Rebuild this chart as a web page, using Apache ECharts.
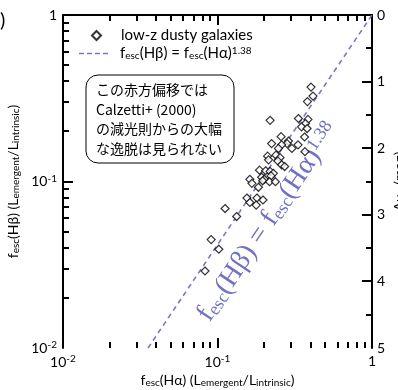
<!DOCTYPE html>
<html><head><meta charset="utf-8">
<script src="https://cdn.jsdelivr.net/npm/echarts@6/dist/echarts.min.js"></script>
<style>html,body{margin:0;padding:0;background:#fff}#c{width:398px;height:390px}</style>
</head><body><div id="c"></div>
<script>
// ---- data ----
const fescHa = [0.403,0.415,0.382,0.219,0.334,0.385,0.371,0.350,0.380,0.258,0.366,0.224,0.288,0.282,0.260,0.332,0.248,0.303,0.368,0.211,0.239,0.254,0.214,0.246,0.260,0.272,0.187,0.205,0.219,0.230,0.222,0.193,0.201,0.196,0.217,0.237,0.162,0.167,0.184,0.155,0.162,0.180,0.197,0.178,0.112,0.133,0.091,0.102,0.083];
const fescHb = [0.369,0.326,0.302,0.233,0.239,0.236,0.223,0.213,0.208,0.186,0.185,0.169,0.175,0.169,0.166,0.166,0.158,0.158,0.151,0.142,0.144,0.139,0.135,0.133,0.126,0.123,0.117,0.116,0.115,0.112,0.108,0.106,0.103,0.101,0.0997,0.0997,0.103,0.0975,0.0923,0.0796,0.0748,0.0796,0.0774,0.0722,0.0688,0.0616,0.0448,0.0392,0.0290];
const relationLine = [[0.0355,0.01],[0.1,0.0417],[1,1]];
const logMajorTicks = [0.1];
const logMinorTicks = [0.02,0.03,0.04,0.05,0.06,0.07,0.08,0.09,0.2,0.3,0.4,0.5,0.6,0.7,0.8,0.9];
const aMajorTicks = [1,2,3,4];
const aMinorTicks = [0.5,1.5,2.5,3.5,4.5];
const noteLines = ['この赤方偏移では','Calzetti+ (2000)','の減光則からの大幅','な逸脱は見られない'];
const scatterName = 'low-z dusty galaxies';
const lineName = 'fit';

const FONT = 'Lato';
const lineColor = '#7878c8';
const MAJ = 10, MIN = 6, TW = 2;
const points = fescHa.map((v,i)=>[v,fescHb[i]]);
const logTickData = logMajorTicks.map(v => [v, v, MAJ]).concat(logMinorTicks.map(v => [v, v, MIN]));
const aTickData = aMajorTicks.map(v => [1, v, MAJ]).concat(aMinorTicks.map(v => [1, v, MIN]));

function logLabel(v){
  const e = Math.round(Math.log10(v));
  if (e === 0) return '1';
  return '10{sup|' + e + '}';
}
const labelRich = { sup: { fontSize: 10, verticalAlign: 'top', fontFamily: FONT, color: '#000', padding:[0,0,6,0] } };
const subRich = { sub: { fontSize: 10, verticalAlign: 'bottom', fontFamily: FONT } };

function logAxis(pos, showLabel, extra){
  return Object.assign({
    type: 'log', position: pos, min: 0.01, max: 1, logBase: 10,
    axisLine: { show: true, lineStyle: { color: '#000', width: 2 } },
    axisTick: { show: false },
    axisLabel: { show: showLabel, formatter: logLabel, rich: labelRich, fontSize: 14, fontFamily: FONT, color: '#000', margin: 6 },
    splitLine: { show: false }, minorTick: { show: false }
  }, extra || {});
}
function vTick(x, y, len){ return { type: 'rect', z2: 10, shape: { x: Math.round(x) - 1, y: y, width: TW, height: len }, style: { fill: '#000' } }; }
function hTick(x, y, len){ return { type: 'rect', z2: 10, shape: { x: x, y: Math.round(y) - 1, width: len, height: TW }, style: { fill: '#000' } }; }

const chart = echarts.init(document.getElementById('c'), null, { renderer: 'canvas' });
chart.setOption({
  animation: false,
  backgroundColor: '#fff',
  grid: { left: 63, right: 26, top: 15, bottom: 42, containLabel: false, outerBoundsMode: 'none' },
  xAxis: [
    logAxis('bottom', true, {
      name: 'f{sub|esc}(Hα) (L{sub|emergent}/L{sub|intrinsic})', nameLocation: 'middle', nameGap: 24,
      nameTextStyle: { fontSize: 14, fontFamily: FONT, color: '#000', rich: subRich }
    }),
    logAxis('top', false)
  ],
  yAxis: [
    logAxis('left', true, {
      name: 'f{sub|esc}(Hβ) (L{sub|emergent}/L{sub|intrinsic})', nameLocation: 'middle', nameGap: 38, nameRotate: 90,
      nameTextStyle: { fontSize: 14, fontFamily: FONT, color: '#000', rich: subRich }
    }),
    {
      type: 'value', position: 'right', min: 0, max: 5, interval: 1, inverse: true,
      axisLine: { show: true, lineStyle: { color: '#000', width: 2 } },
      axisTick: { show: false }, minorTick: { show: false },
      axisLabel: { show: true, fontSize: 14, fontFamily: FONT, color: '#000', margin: 5 },
      splitLine: { show: false },
      name: 'A{sub|Hα} (mag)', nameLocation: 'middle', nameGap: 20, nameRotate: 90, nameMoveOverlap: false,
      nameTextStyle: { fontSize: 14, fontFamily: FONT, color: '#000', rich: subRich }
    }
  ],
  legend: [
    { data: [scatterName], left: 91, top: 28, itemWidth: 9, itemHeight: 9, padding: 0,
      formatter: (n) => '{p|}' + n,
      textStyle: { fontSize: 15, fontFamily: FONT, color: '#000', rich: { p: { width: 15 } } } },
    { data: [{ name: lineName, icon: 'path://M0,0h5v1.6h-5z M8,0h5v1.6h-5z M16,0h5v1.6h-5z M24,0h5v1.6h-5z' }],
      left: 79, top: 46, itemWidth: 29, itemHeight: 1.6, padding: 0,
      formatter: () => '{p|}f{sub|esc}(Hβ) = f{sub|esc}(Hα){sup|1.38}',
      textStyle: { fontSize: 15, fontFamily: FONT, color: '#000',
        rich: { p: { width: 7 },
                sub: { fontSize: 10, verticalAlign: 'bottom', fontFamily: FONT },
                sup: { fontSize: 10, verticalAlign: 'top', fontFamily: FONT } } } }
  ],
  series: [
    { name: lineName, type: 'line', xAxisIndex: 0, yAxisIndex: 0, data: relationLine, showSymbol: false, symbol: 'none',
      lineStyle: { color: lineColor, width: 1.6, type: [5, 4] }, itemStyle: { color: lineColor }, z: 2 },
    { name: scatterName, type: 'scatter', xAxisIndex: 0, yAxisIndex: 0, data: points, symbol: 'diamond', symbolSize: 8,
      itemStyle: { color: '#fff', borderColor: '#000', borderWidth: 1.2 }, z: 3 },
    { name: 'logTicks', type: 'custom', xAxisIndex: 0, yAxisIndex: 0, silent: true, clip: false, z: 6,
      data: logTickData,
      renderItem: (params, api) => {
        const v = api.value(0);
        const len = api.value(2);
        const b = api.coord([v, 0.01]);
        const t = api.coord([v, 1]);
        const l = api.coord([0.01, v]);
        return { type: 'group', children: [ vTick(b[0], b[1] - len, len), vTick(t[0], t[1], len), hTick(l[0], l[1], len) ] };
      } },
    { name: 'aTicks', type: 'custom', xAxisIndex: 0, yAxisIndex: 1, silent: true, clip: false, z: 6,
      data: aTickData,
      renderItem: (params, api) => {
        const p = api.coord([api.value(0), api.value(1)]);
        const len = api.value(2);
        return hTick(p[0] - len, p[1], len);
      } }
  ],
  graphic: [
    { type: 'text', left: 0, top: 11, style: { text: ')', fontSize: 20, fontFamily: FONT, fill: '#000' } },
    { type: 'rect', shape: { x: 86, y: 75, width: 148, height: 88, r: 12 }, style: { fill: '#fff', stroke: '#000', lineWidth: 1 }, z: 10 },
    { type: 'text', x: 96, y: 80, z: 11, style: { text: noteLines.join('\n'), fontSize: 14, lineHeight: 19.5,
        fontFamily: '"Noto Sans CJK JP"', fill: '#000', textVerticalAlign: 'top', textAlign: 'left' } },
    { type: 'text', x: 268, y: 222, rotation: 56.2 * Math.PI / 180, z: 1,
      style: { text: 'f{sub|esc}(Hβ) = f{sub|esc}(Hα){sup|1.38}', fontSize: 28, fontFamily: '"Liberation Serif"', fill: '#7070c4',
        textAlign: 'center', textVerticalAlign: 'middle',
        rich: { sub: { fontSize: 18, verticalAlign: 'bottom', fontFamily: '"Liberation Serif"', fill: '#7070c4' },
                sup: { fontSize: 18, verticalAlign: 'top', fontFamily: '"Liberation Serif"', fill: '#7070c4' } } } }
  ]
});
</script></body></html>
